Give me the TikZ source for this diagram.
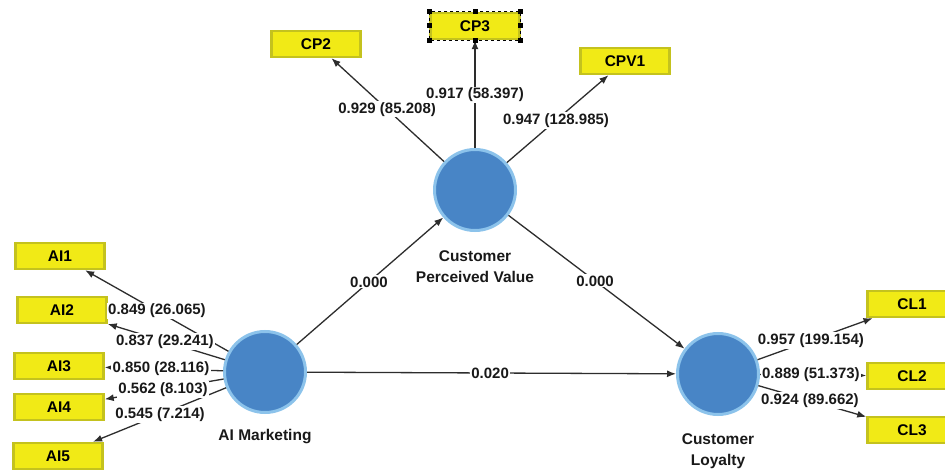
\documentclass[tikz,border=0pt]{standalone}
\usepackage{fontspec}
\setmainfont{Liberation Sans}
\usetikzlibrary{arrows.meta}
\definecolor{lvfill}{RGB}{72,133,198}
\definecolor{lvring}{RGB}{140,195,235}
\definecolor{indfill}{RGB}{241,234,22}
\definecolor{indborder}{RGB}{196,194,30}
\definecolor{linecol}{RGB}{45,45,45}
\definecolor{txt}{RGB}{25,25,25}
\tikzset{
  lv/.style={circle, fill=lvfill, draw=lvring, line width=3pt, minimum size=81pt, inner sep=0pt},
  lvname/.style={font=\bfseries\fontsize{15.5}{21}\selectfont, text=txt, align=center, inner sep=0pt},
  ind/.style={rectangle, fill=indfill, draw=indborder, line width=2.5pt, minimum width=89pt, minimum height=26pt, inner sep=0pt, font=\bfseries\fontsize{15.5}{17}\selectfont, text=black},
  arr/.style={draw=linecol, line width=1.3pt, -{Latex[length=9pt,width=7pt]}},
  lbl/.style={fill=white, inner sep=1.2pt, font=\bfseries\fontsize{15}{17}\selectfont, text=txt},
  handle/.style={fill=black}
}
\begin{document}
\begin{tikzpicture}[x=1pt,y=-1pt]
\fill[white] (0,0) rectangle (945,470);
\useasboundingbox (0,0) rectangle (945,470);

% latent variables
\node[lv] (AI) at (265,372) {};
\node[lv] (CPV) at (475,190) {};
\node[lv] (CL) at (718,374) {};
\node[lvname] (AIname) at (265,437) {AI Marketing};
\node[lvname] (CPVname) at (475,267) {Customer\\Perceived Value};
\node[lvname] (CLname) at (718,451) {Customer\\Loyalty};

% indicators
\node[ind] (AI1) at (60,256) {AI1};
\node[ind] (AI2) at (62,310) {AI2};
\node[ind] (AI3) at (59,366) {AI3};
\node[ind] (AI4) at (59,407) {AI4};
\node[ind] (AI5) at (58,456) {AI5};
\node[ind] (CP2) at (316,44) {CP2};
\node[ind] (CP3) at (475,26) {CP3};
\node[ind] (CPV1) at (625,61) {CPV1};
\node[ind] (CL1) at (912,304) {CL1};
\node[ind] (CL2) at (912,376) {CL2};
\node[ind] (CL3) at (912,430) {CL3};

% connectors
\draw[arr] (AI) -- (AI1);
\draw[arr] (AI) -- (AI2);
\draw[arr] (AI) -- (AI3);
\draw[arr] (AI) -- (AI4);
\draw[arr] (AI) -- (AI5);
\draw[arr] (CPV) -- (CP2);
\draw[arr] (CPV) -- (CP3);
\draw[arr] (CPV) -- (CPV1);
\draw[arr] (CL) -- (CL1);
\draw[arr] (CL) -- (CL2);
\draw[arr] (CL) -- (CL3);
\draw[arr] (AI) -- (CPV);
\draw[arr] (CPV) -- (CL);
\draw[arr] (AI) -- (CL);

% labels
\path (AI.center) -- (AI1.center) node[lbl, pos=0.527] (l1) {0.849 (26.065)};
\path (AI.center) -- (AI2.center) node[lbl, pos=0.493] (l2) {0.837 (29.241)};
\path (AI.center) -- (AI3.center) node[lbl, pos=0.505] (l3) {0.850 (28.116)};
\path (AI.center) -- (AI4.center) node[lbl, pos=0.495] (l4) {0.562 (8.103)};
\path (AI.center) -- (AI5.center) node[lbl, pos=0.507] (l5) {0.545 (7.214)};
\path (CPV.center) -- (CP2.center) node[lbl, pos=0.553] (l6) {0.929 (85.208)};
\path (CPV.center) -- (CP3.center) node[lbl, pos=0.579] (l7) {0.917 (58.397)};
\path (CPV.center) -- (CPV1.center) node[lbl, pos=0.54] (l8) {0.947 (128.985)};
\path (CL.center) -- (CL1.center) node[lbl, pos=0.479] (l9) {0.957 (199.154)};
\path (CL.center) -- (CL2.center) node[lbl, pos=0.479] (l10) {0.889 (51.373)};
\path (CL.center) -- (CL3.center) node[lbl, pos=0.474] (l11) {0.924 (89.662)};
\path (AI.center) -- (CPV.center) node[lbl, pos=0.495] (l12) {0.000};
\path (CPV.center) -- (CL.center) node[lbl, pos=0.494] (l13) {0.000};
\path (AI.center) -- (CL.center) node[lbl, pos=0.497] (l14) {0.020};

% selection frame on CP3
\draw[black, dashed, line width=0.8pt] (CP3.north west) rectangle (CP3.south east);
\foreach \a in {north west, north, north east, east, south east, south, south west, west}
  \fill[handle] (CP3.\a) ++(-2.5,-2.5) rectangle ++(5,5);
\end{tikzpicture}
\end{document}
